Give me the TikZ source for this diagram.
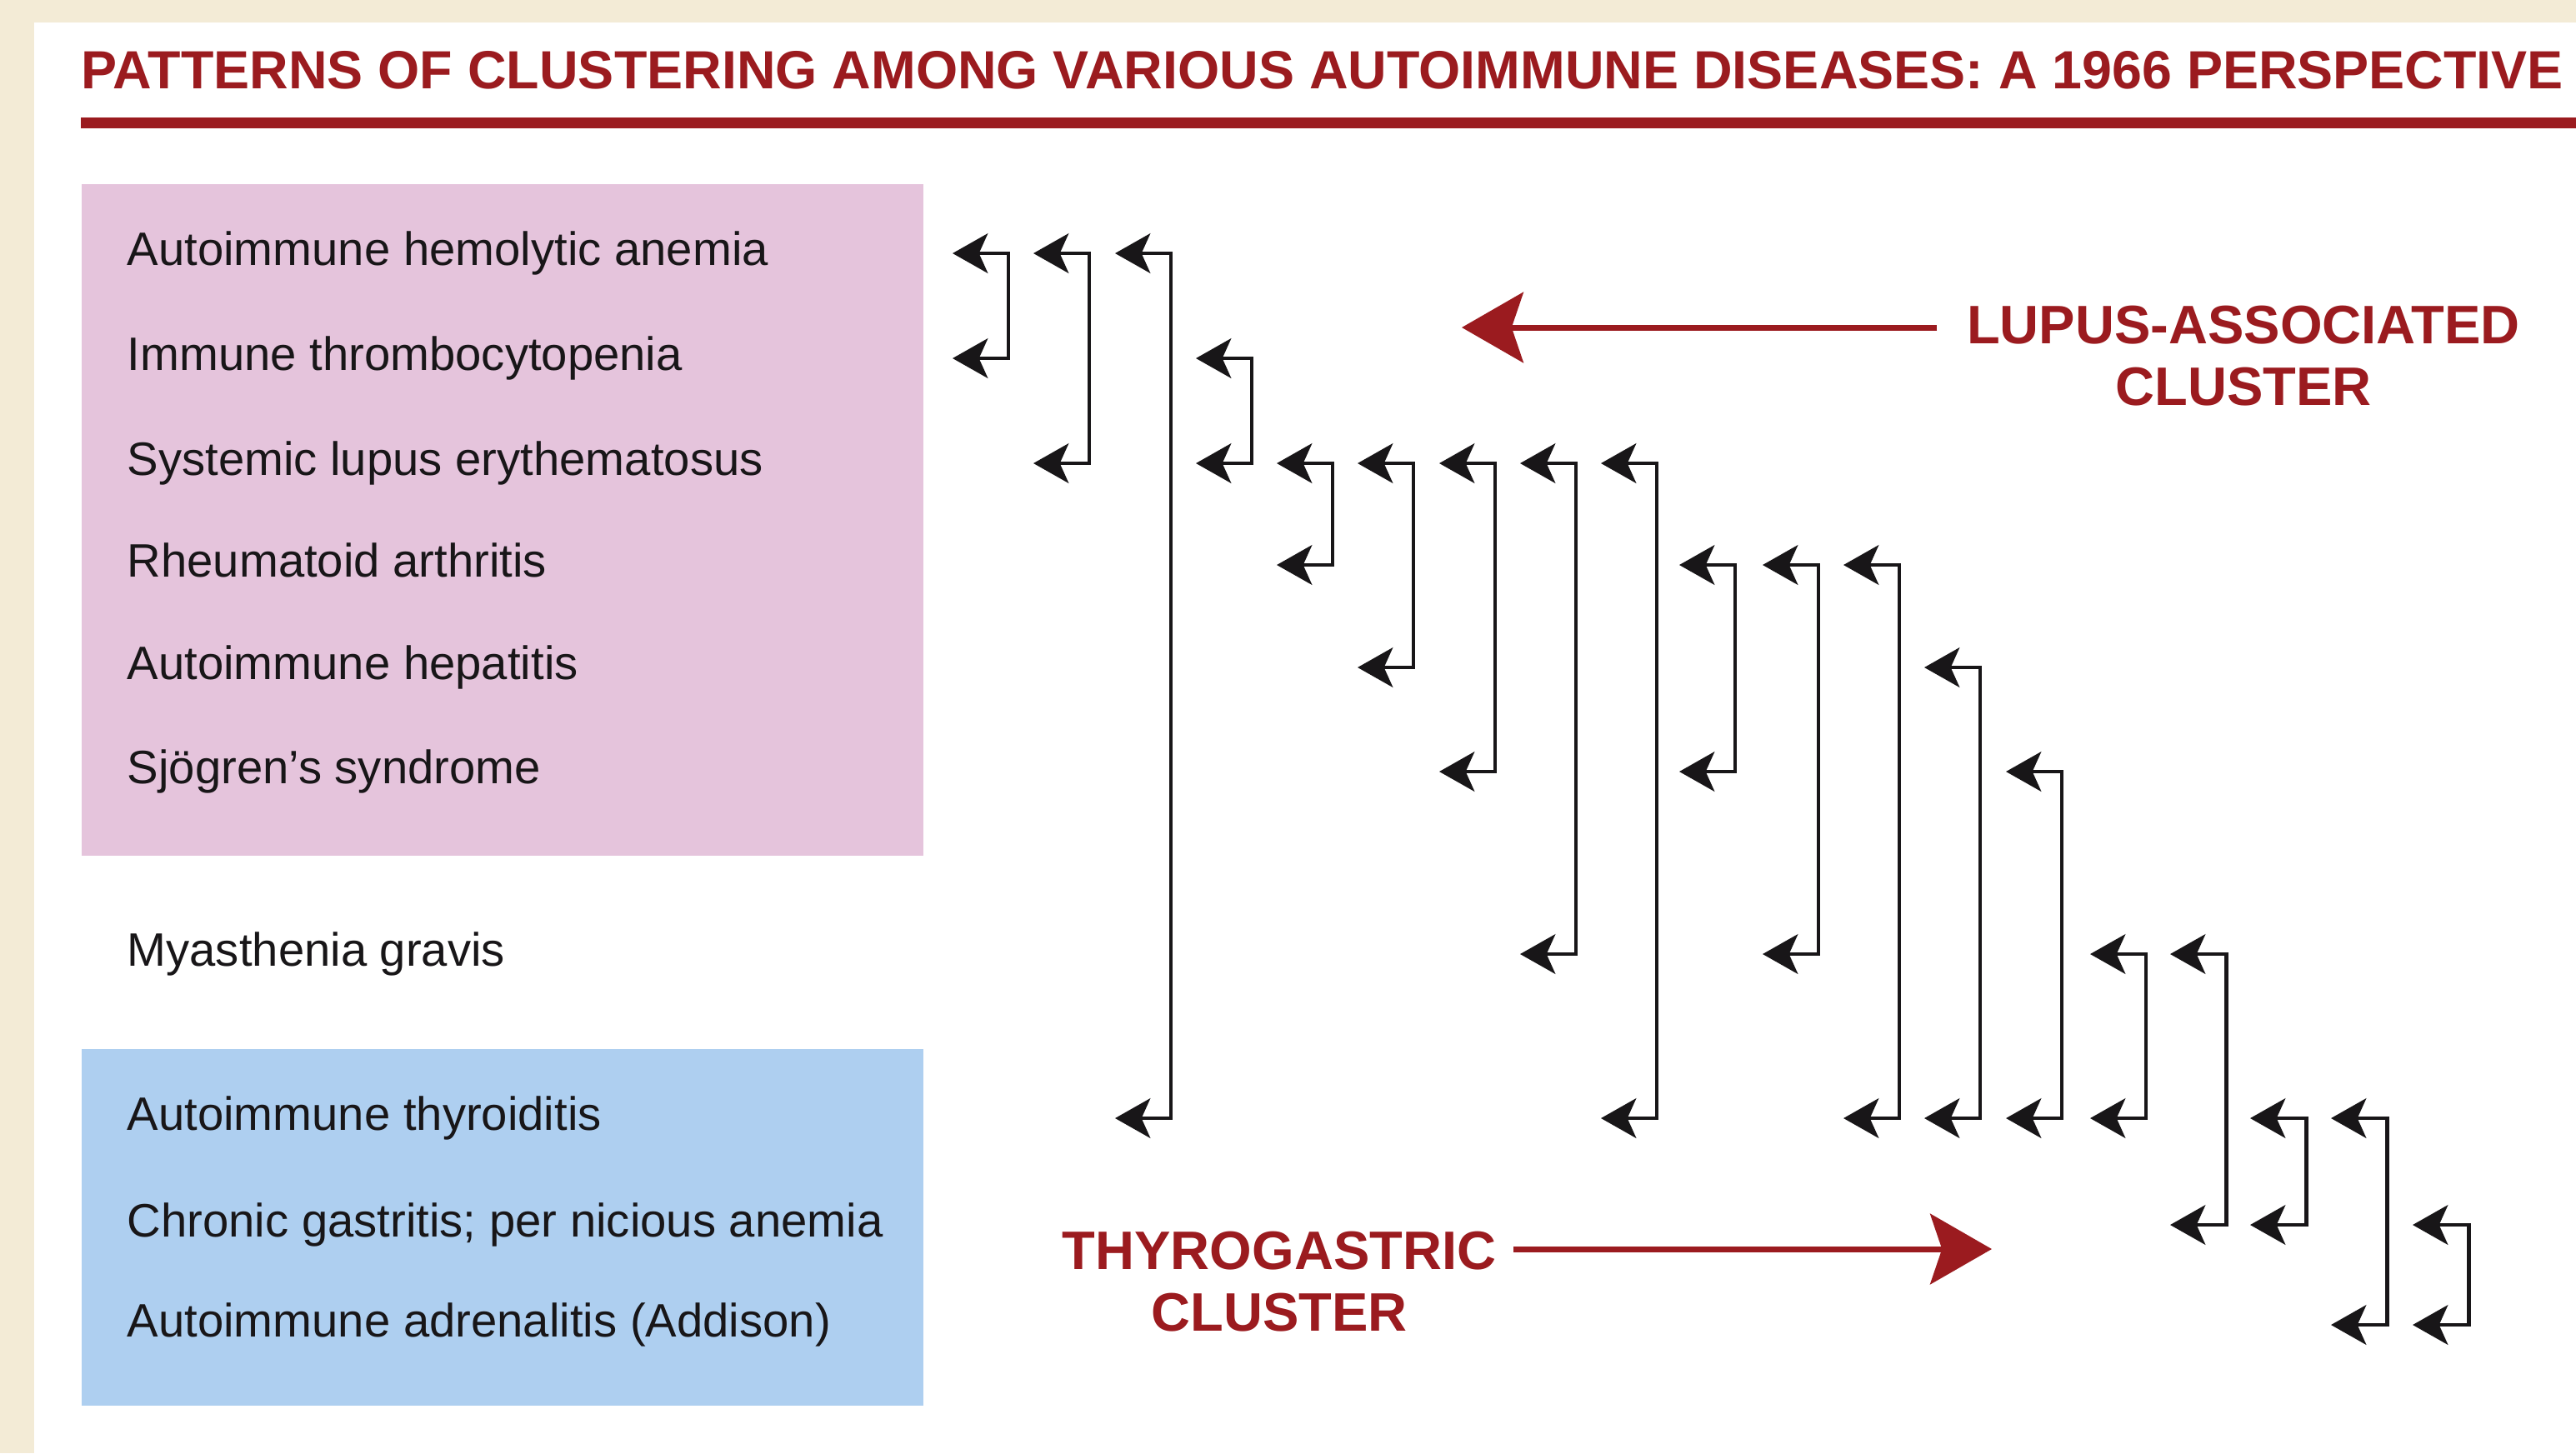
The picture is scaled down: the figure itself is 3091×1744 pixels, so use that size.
\documentclass[tikz,border=0pt]{standalone}
\usepackage{fontspec}
\setmainfont{Liberation Sans}
\usepackage{xcolor}
\usepackage{tikz}
\usetikzlibrary{arrows.meta}

\definecolor{cream}{RGB}{243,235,214}
\definecolor{lupuspink}{RGB}{229,196,220}
\definecolor{thyroblue}{RGB}{174,207,240}
\definecolor{darkred}{RGB}{155,27,31}
\definecolor{inkblack}{RGB}{24,22,24}

\begin{document}
\begin{tikzpicture}[x=0.01cm, y=-0.01cm,
  disease/.style={anchor=west, inner sep=0, text height=0.9em, text depth=0.05em,
    font=\fontsize{16}{19}\selectfont, text=inkblack},
  link/.style={line width=1.4pt, draw=inkblack,
    {Stealth[length=12pt,width=13.5pt,inset=3pt]}-{Stealth[length=12pt,width=13.5pt,inset=3pt]}},
  clusterlabel/.style={align=center, text=darkred, font=\fontsize{18.5}{21}\selectfont\bfseries},
  clusterarrow/.style={line width=2pt, draw=darkred, -{Stealth[length=21pt,width=24pt,inset=4pt]}}]

\useasboundingbox (0,0) rectangle (3091,1744);

% page and frame
\fill[cream] (0,0) rectangle (3091,1744);
\fill[white] (41,27) rectangle (3091,1744);

% title
\node[anchor=base west, inner sep=0, text=darkred, font=\fontsize{18.35}{22}\selectfont\bfseries] (title) at (97,106)
  {PATTERNS OF CLUSTERING AMONG VARIOUS AUTOIMMUNE DISEASES: A 1966 PERSPECTIVE};
\fill[darkred] (97,141) rectangle (3091,154);

% shaded groups
\fill[lupuspink] (98,221) rectangle (1108,1027);
\fill[thyroblue] (98,1259) rectangle (1108,1687);

% diseases
\node[disease] (aha) at (152,304) {Autoimmune hemolytic anemia};
\node[disease] (itp) at (152,430) {Immune thrombocytopenia};
\node[disease] (sle) at (152,556) {Systemic lupus erythematosus};
\node[disease] (ra)  at (152,678) {Rheumatoid arthritis};
\node[disease] (aih) at (152,801) {Autoimmune hepatitis};
\node[disease] (sjs) at (152,926) {Sjögren's syndrome};
\node[disease] (mg)  at (152,1145) {Myasthenia gravis};
\node[disease] (ait) at (152,1342) {Autoimmune thyroiditis};
\node[disease] (cg)  at (152,1470) {Chronic gastritis; per nicious anemia};
\node[disease] (aa)  at (152,1590) {Autoimmune adrenalitis (Addison)};

% links between pairs
\draw[link] (1143,0 |- aha) -| (1210,0 |- itp) -- (1143,0 |- itp);
\draw[link] (1240,0 |- aha) -| (1307,0 |- sle) -- (1240,0 |- sle);
\draw[link] (1338,0 |- aha) -| (1405,0 |- ait) -- (1338,0 |- ait);
\draw[link] (1435,0 |- itp) -| (1502,0 |- sle) -- (1435,0 |- sle);
\draw[link] (1532,0 |- sle) -| (1599,0 |- ra) -- (1532,0 |- ra);
\draw[link] (1629,0 |- sle) -| (1696,0 |- aih) -- (1629,0 |- aih);
\draw[link] (1727,0 |- sle) -| (1794,0 |- sjs) -- (1727,0 |- sjs);
\draw[link] (1824,0 |- sle) -| (1891,0 |- mg) -- (1824,0 |- mg);
\draw[link] (1921,0 |- sle) -| (1988,0 |- ait) -- (1921,0 |- ait);
\draw[link] (2015,0 |- ra) -| (2082,0 |- sjs) -- (2015,0 |- sjs);
\draw[link] (2115,0 |- ra) -| (2182,0 |- mg) -- (2115,0 |- mg);
\draw[link] (2212,0 |- ra) -| (2279,0 |- ait) -- (2212,0 |- ait);
\draw[link] (2309,0 |- aih) -| (2376,0 |- ait) -- (2309,0 |- ait);
\draw[link] (2407,0 |- sjs) -| (2474,0 |- ait) -- (2407,0 |- ait);
\draw[link] (2508,0 |- mg) -| (2575,0 |- ait) -- (2508,0 |- ait);
\draw[link] (2604,0 |- mg) -| (2671,0 |- cg) -- (2604,0 |- cg);
\draw[link] (2700,0 |- ait) -| (2767,0 |- cg) -- (2700,0 |- cg);
\draw[link] (2797,0 |- ait) -| (2864,0 |- aa) -- (2797,0 |- aa);
\draw[link] (2895,0 |- cg) -| (2962,0 |- aa) -- (2895,0 |- aa);

% lupus cluster
\node[clusterlabel, anchor=base, inner xsep=0.35cm] (lupus) at (2692,486) {LUPUS-ASSOCIATED\\CLUSTER};
\coordinate (lupustip) at (1754,393);
\draw[clusterarrow] (lupus.west |- lupustip) -- (lupustip);

% thyrogastric cluster
\node[clusterlabel, anchor=base, inner xsep=0.2cm] (thyro) at (1535,1597) {THYROGASTRIC\\CLUSTER};
\coordinate (thyrotip) at (2390,1499);
\draw[clusterarrow] (thyro.east |- thyrotip) -- (thyrotip);

\end{tikzpicture}
\end{document}
